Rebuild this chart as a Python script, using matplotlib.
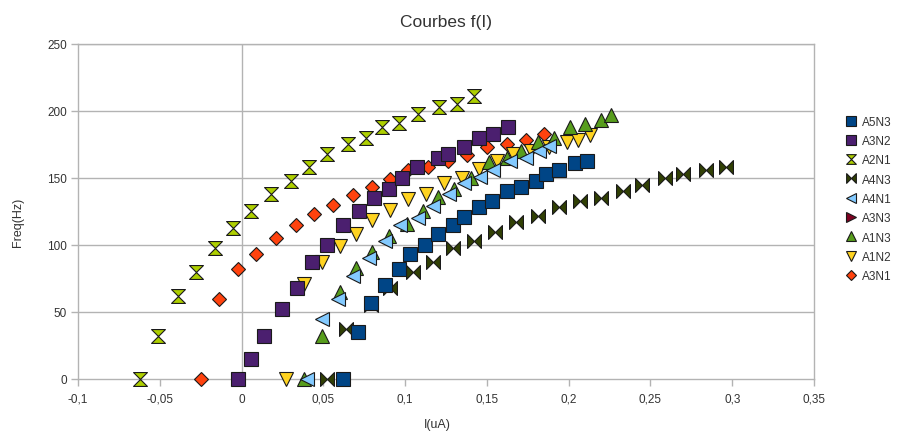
import matplotlib
matplotlib.use("Agg")
import matplotlib.pyplot as plt
from matplotlib.path import Path
from matplotlib.ticker import FixedLocator

plt.rcParams['font.family'] = ['Liberation Sans', 'DejaVu Sans']

# ---------------- data ----------------
series_names = ["A5N3", "A3N2", "A2N1", "A4N3", "A4N1", "A3N3", "A1N3", "A1N2", "A3N1"]

a5n3_x = [0.062, 0.071, 0.079, 0.088, 0.096, 0.103, 0.112, 0.120, 0.129, 0.136, 0.145, 0.153, 0.162, 0.171, 0.180, 0.186, 0.194, 0.204, 0.211]
a5n3_y = [0, 35, 57, 70, 82, 93, 100, 108, 115, 121, 128, 133, 140, 143, 148, 153, 156, 161, 163]

a3n2_x = [-0.002, 0.006, 0.014, 0.025, 0.034, 0.043, 0.052, 0.062, 0.072, 0.081, 0.090, 0.098, 0.107, 0.120, 0.126, 0.136, 0.145, 0.154, 0.163]
a3n2_y = [0, 15, 32, 52, 68, 87, 100, 115, 125, 135, 142, 150, 158, 165, 168, 173, 180, 183, 188]

a2n1_x = [-0.062, -0.051, -0.039, -0.028, -0.016, -0.005, 0.006, 0.018, 0.030, 0.041, 0.052, 0.065, 0.076, 0.086, 0.096, 0.108, 0.121, 0.132, 0.142]
a2n1_y = [0, 32, 62, 80, 98, 113, 125, 138, 148, 158, 168, 175, 180, 188, 191, 198, 203, 205, 211]

a4n3_x = [0.052, 0.064, 0.079, 0.091, 0.105, 0.117, 0.129, 0.142, 0.155, 0.168, 0.181, 0.194, 0.207, 0.220, 0.233, 0.245, 0.259, 0.270, 0.284, 0.296]
a4n3_y = [0, 37, 55, 68, 80, 87, 98, 103, 110, 117, 122, 128, 133, 135, 140, 145, 150, 153, 156, 158]

a4n1_x = [0.040, 0.049, 0.059, 0.068, 0.078, 0.088, 0.097, 0.108, 0.117, 0.127, 0.136, 0.146, 0.154, 0.164, 0.174, 0.182, 0.188]
a4n1_y = [0, 45, 60, 77, 90, 103, 115, 120, 129, 138, 146, 151, 156, 163, 165, 170, 174]

a3n3_x = []
a3n3_y = []

a1n3_x = [0.038, 0.049, 0.060, 0.070, 0.080, 0.090, 0.101, 0.111, 0.120, 0.130, 0.140, 0.151, 0.162, 0.171, 0.181, 0.191, 0.201, 0.210, 0.220, 0.226]
a1n3_y = [0, 32, 65, 83, 95, 107, 116, 125, 136, 142, 150, 162, 165, 170, 177, 180, 188, 190, 193, 197]

a1n2_x = [0.027, 0.038, 0.049, 0.060, 0.070, 0.080, 0.091, 0.102, 0.113, 0.124, 0.135, 0.145, 0.156, 0.166, 0.177, 0.188, 0.199, 0.206, 0.213]
a1n2_y = [0, 71, 87, 99, 108, 119, 126, 134, 138, 146, 150, 157, 163, 168, 170, 173, 177, 178, 182]

a3n1_x = [-0.025, -0.014, -0.002, 0.009, 0.021, 0.033, 0.044, 0.056, 0.068, 0.080, 0.091, 0.102, 0.114, 0.126, 0.138, 0.150, 0.162, 0.174, 0.185]
a3n1_y = [0, 60, 82, 93, 105, 115, 123, 130, 137, 143, 149, 156, 158, 163, 167, 173, 175, 178, 183]

x_ticks = [-0.1, -0.05, 0, 0.05, 0.1, 0.15, 0.2, 0.25, 0.3, 0.35]
x_tick_labels = ["-0,1", "-0,05", "0", "0,05", "0,1", "0,15", "0,2", "0,25", "0,3", "0,35"]
y_ticks = [0, 50, 100, 150, 200, 250]
y_tick_labels = ["0", "50", "100", "150", "200", "250"]

# ---------------- styles ----------------
hourglass = Path([(-1, 1), (1, 1), (0, 0), (1, -1), (-1, -1), (0, 0), (-1, 1)],
                 [Path.MOVETO, Path.LINETO, Path.LINETO, Path.LINETO, Path.LINETO, Path.LINETO, Path.CLOSEPOLY])
bowtie = Path([(-1, -1), (-1, 1), (0, 0), (1, 1), (1, -1), (0, 0), (-1, -1)],
              [Path.MOVETO, Path.LINETO, Path.LINETO, Path.LINETO, Path.LINETO, Path.LINETO, Path.CLOSEPOLY])

data = [
    (a5n3_x, a5n3_y, "#004586", "s", 9.5),
    (a3n2_x, a3n2_y, "#4b1f6f", "s", 9.5),
    (a2n1_x, a2n1_y, "#aecf00", hourglass, 10),
    (a4n3_x, a4n3_y, "#314004", bowtie, 10),
    (a4n1_x, a4n1_y, "#83caff", "<", 10),
    (a3n3_x, a3n3_y, "#7e0021", ">", 10),
    (a1n3_x, a1n3_y, "#579d1c", "^", 10),
    (a1n2_x, a1n2_y, "#ffd320", "v", 10),
    (a3n1_x, a3n1_y, "#ff420e", "D", 6.8),
]

fig = plt.figure(figsize=(9.1, 4.39), dpi=100)
ax = fig.add_axes([0.0857, 0.1344, 0.8088, 0.7631])

handles = []
n = len(data)
for i, (xs, ys, col, mk, ms) in enumerate(data):
    h, = ax.plot(xs, ys, linestyle="none", marker=mk, markersize=ms,
                 markerfacecolor=col, markeredgecolor="#1a1a1a", markeredgewidth=0.8,
                 zorder=10 + (n - i), clip_on=False, label=series_names[i])
    handles.append(h)

ax.set_xlim(-0.1, 0.35)
ax.set_ylim(0, 250)

grid_col = "#b3b3b3"
for y in y_ticks[1:]:
    ax.axhline(y, color=grid_col, linewidth=1.0, zorder=1)
ax.axvline(0, color=grid_col, linewidth=1.0, zorder=1)

for s in ax.spines.values():
    s.set_color(grid_col)
    s.set_linewidth(1.0)

ax.xaxis.set_major_locator(FixedLocator(x_ticks))
ax.set_xticklabels(x_tick_labels)
ax.yaxis.set_major_locator(FixedLocator(y_ticks))
ax.set_yticklabels(y_tick_labels)
ax.tick_params(axis="both", direction="out", length=5, width=1.0, color=grid_col,
               labelsize=8.5, labelcolor="#333333", pad=3)
ax.tick_params(axis="x", pad=5)

ax.set_title("Courbes f(I)", fontsize=12.5, color="#333333", pad=13)
ax.set_xlabel("I(uA)", fontsize=9, color="#333333")
ax.xaxis.set_label_coords(0.488, -0.117)
ax.set_ylabel("Freq(Hz)", fontsize=9, color="#333333")
ax.yaxis.set_label_coords(-0.074, 0.47)

leg = fig.legend(handles=handles, loc="upper left", bbox_to_anchor=(0.925, 0.745),
                 frameon=False, fontsize=8.5, handlelength=0.8, handletextpad=0.5,
                 labelspacing=0.62, markerscale=0.7, borderaxespad=0)
for t in leg.get_texts():
    t.set_color("#333333")

fig.savefig("out.png", dpi=100)
